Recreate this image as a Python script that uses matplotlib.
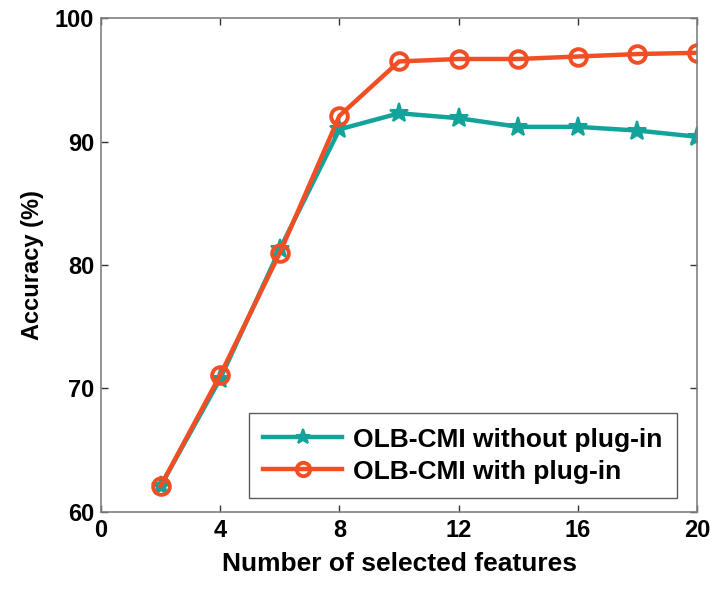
import matplotlib
matplotlib.use("Agg")
import matplotlib.pyplot as plt

# Accuracy vs number of selected features
n_features = [2, 4, 6, 8, 10, 12, 14, 16, 18, 20]
acc_without = [62.1, 70.8, 81.3, 91.0, 92.3, 91.9, 91.2, 91.2, 90.9, 90.4]
acc_with = [62.1, 71.1, 81.0, 92.1, 96.5, 96.7, 96.7, 96.9, 97.1, 97.2]

x_ticks = [0, 4, 8, 12, 16, 20]
y_ticks = [60, 70, 80, 90, 100]

plt.rcParams['font.family'] = ['Liberation Sans', 'DejaVu Sans']
plt.rcParams['font.weight'] = 'bold'

teal = '#12a39b'
orange = '#f24e23'

fig = plt.figure(figsize=(7.12, 5.89), dpi=100)
ax = fig.add_axes([0.142, 0.131, 0.837, 0.838])

ax.plot(n_features, acc_without, color=teal, linewidth=3.2, marker='*',
        markersize=14, markeredgewidth=1.5, markerfacecolor=teal,
        markeredgecolor=teal, label='OLB-CMI without plug-in')
ax.plot(n_features, acc_with, color=orange, linewidth=3.2, marker='o',
        markersize=12, markeredgewidth=2.8, markerfacecolor='none',
        markeredgecolor=orange, label='OLB-CMI with plug-in')

ax.set_xlim(0, 20)
ax.set_ylim(60, 100)
ax.set_xticks(x_ticks)
ax.set_yticks(y_ticks)
ax.tick_params(direction='in', top=True, right=True, length=5, width=1,
               color='#333333', labelsize=17, pad=5)
for lbl in ax.get_xticklabels() + ax.get_yticklabels():
    lbl.set_fontweight('bold')
for s in ax.spines.values():
    s.set_color('#808080')
    s.set_linewidth(1.2)

ax.set_xlabel('Number of selected features', fontsize=19, fontweight='bold', labelpad=7)
ax.set_ylabel('Accuracy (%)', fontsize=17, fontweight='bold', labelpad=8)

leg = ax.legend(loc='lower right', bbox_to_anchor=(0.966, 0.028), borderaxespad=0,
                frameon=True, fancybox=False, edgecolor='#333333',
                handlelength=3.0, handletextpad=0.4, borderpad=0.55, labelspacing=0.3,
                markerscale=0.8, prop={'weight': 'bold', 'size': 19})
leg.get_frame().set_linewidth(1.0)

fig.savefig('out.png', dpi=100)
